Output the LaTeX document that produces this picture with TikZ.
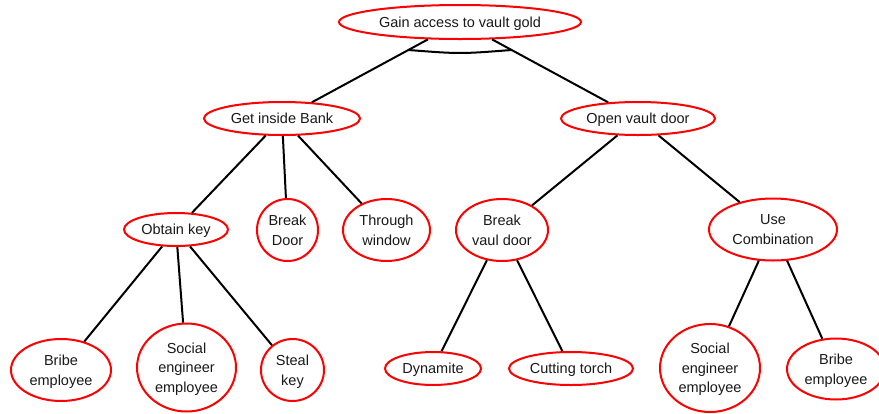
\documentclass[tikz,border=0pt]{standalone}
\usepackage{fontspec}
\setmainfont{Liberation Sans}
\usetikzlibrary{shapes.geometric,calc}

\tikzset{
  goal/.style={ellipse, draw=red, line width=2pt, fill=white, inner sep=0pt,
    align=center, text=black!90, text depth=0pt,
    font=\fontsize{14.5}{19.5}\selectfont},
  link/.style={draw=black, line width=2pt},
}

\begin{document}
\begin{tikzpicture}[x=1pt, y=-1pt]
  \useasboundingbox (0,0) rectangle (879,413);

  % goals
  \node[goal, minimum width=242pt, minimum height=34pt] (root) at (460,22) {Gain access to vault gold};
  \node[goal, minimum width=156pt, minimum height=33pt] (gib)  at (282,118.5) {Get inside Bank};
  \node[goal, minimum width=154pt, minimum height=33pt] (ovd)  at (638,118.5) {Open vault door};

  \node[goal, minimum width=104pt, minimum height=33pt] (ok)   at (176,229.5) {Obtain key};
  \node[goal, minimum width=61pt,  minimum height=62pt] (bd)   at (287.5,230) {Break\\Door};
  \node[goal, minimum width=87pt,  minimum height=62pt] (tw)   at (386.5,230) {Through\\window};
  \node[goal, minimum width=92pt,  minimum height=62pt] (bvd)  at (502,230) {Break\\vaul door};
  \node[goal, minimum width=128pt, minimum height=62pt] (uc)   at (773,229.5) {Use\\Combination};

  \node[goal, minimum width=100pt, minimum height=62pt] (be1)  at (61,370) {Bribe\\employee};
  \node[goal, minimum width=99pt,  minimum height=88pt] (se1)  at (186.5,367.5) {Social\\engineer\\employee};
  \node[goal, minimum width=63pt,  minimum height=62pt] (sk)   at (292.5,370) {Steal\\key};
  \node[goal, minimum width=96pt,  minimum height=33pt] (dy)   at (433,368.5) {Dynamite};
  \node[goal, minimum width=124pt, minimum height=33pt] (ct)   at (571,368.5) {Cutting torch};
  \node[goal, minimum width=100pt, minimum height=88pt] (se2)  at (710,368) {Social\\engineer\\employee};
  \node[goal, minimum width=98pt,  minimum height=61pt] (be2)  at (836,369) {Bribe\\employee};

  % refinement links
  \path[link] (root) -- (gib);
  \path[link] (root) -- (ovd);
  \path[link] (gib) -- (ok);
  \path[link] (gib) -- (bd);
  \path[link] (gib) -- (tw);
  \path[link] (ok) -- (be1);
  \path[link] (ok) -- (se1);
  \path[link] (ok) -- (sk);
  \path[link] (ovd) -- (bvd);
  \path[link] (ovd) -- (uc);
  \path[link] (bvd) -- (dy);
  \path[link] (bvd) -- (ct);
  \path[link] (uc) -- (se2);
  \path[link] (uc) -- (be2);

  % AND arc joining the two root links
  \coordinate (andL) at ($(root.center)!0.29!(gib.center)$);
  \coordinate (andR) at ($(root.center)!0.29!(ovd.center)$);
  \coordinate (andC) at ($(andL)!0.5!(andR)+(0,4)$);
  \draw[line width=2pt] (andL) .. controls (andC) .. (andR);
\end{tikzpicture}
\end{document}
